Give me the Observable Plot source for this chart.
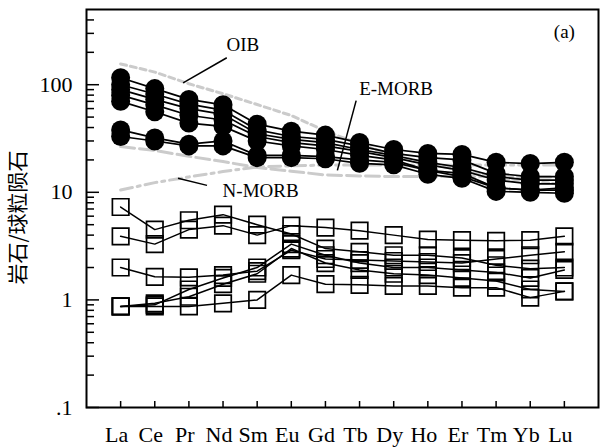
<!DOCTYPE html>
<html><head><meta charset="utf-8">
<script src="https://cdn.jsdelivr.net/npm/d3@7"></script>
<script src="https://cdn.jsdelivr.net/npm/@observablehq/plot@0.6"></script>
<style>
body{margin:0;background:#fff}
svg text{font-family:"Liberation Serif","DejaVu Serif",serif !important;}
svg text.cjk, svg .cjk text{font-family:"Noto Sans CJK SC",sans-serif !important;}
</style>
</head><body><div id="chart"></div>
<script>
const elements = ["La","Ce","Pr","Nd","Sm","Eu","Gd","Tb","Dy","Ho","Er","Tm","Yb","Lu"];

// filled-circle samples (chondrite normalised)
const circleS1 = [116, 92, 73, 65, 43, 37, 34, 29, 25, 23, 22.5, 19, 18.5, 19];
const circleS2 = [100, 82, 66, 58, 38, 33, 31, 27, 23, 21, 20, 15, 14, 14];
const circleS3 = [90, 73, 60, 53, 35, 31, 29, 25, 22, 19, 17, 14, 13, 13];
const circleS4 = [80, 65, 52, 47, 33, 29, 27, 24, 21, 18, 16, 13, 12, 12];
const circleS5 = [70, 56, 44, 41, 30, 27, 25, 22, 20, 16, 15, 11, 10.5, 11];
const circleS6 = [38, 32, 28, 30, 22, 22, 21.5, 20, 19, 16, 14, 11, 10.5, 10.5];
const circleS7 = [33, 30, 27, 27, 21, 21, 20.5, 18.6, 18, 14.7, 13.5, 10.2, 10, 9.8];

// open-square samples
const squareA = [7.3, 4.5, 5.5, 6.2, 5.0, 4.1, 3.0, 2.8, 2.6, 2.6, 2.45, 2.1, 1.95, 2.0];
const squareB = [3.9, 3.3, 4.5, 4.9, 4.0, 4.9, 4.7, 4.4, 4.0, 3.64, 3.59, 3.54, 3.59, 3.9];
const squareC = [2.0, 1.64, 1.62, 1.7, 1.85, 2.9, 2.4, 2.35, 2.3, 2.25, 2.2, 2.4, 2.6, 2.8];
const squareD = [0.87, 0.87, 0.87, 0.93, 1.0, 1.7, 1.4, 1.38, 1.35, 1.35, 1.3, 1.3, 1.05, 1.2];
const squareE = [0.87, 0.93, 1.07, 1.4, 1.75, 3.0, 2.2, 1.9, 1.75, 1.7, 1.6, 1.5, 1.25, 1.2];
const squareF = [0.87, 0.90, 1.25, 1.6, 2.0, 3.3, 2.6, 2.2, 2.0, 2.0, 1.9, 1.8, 1.6, 1.9];

// reference curves
const oib   = [156, 131, 102, 82.4, 65.4, 51.7, 37.1, 28.1, 22.0, 18.7, 15.8, 13.7, 12.7, 11.8];
const emorb = [26.6, 24.5, 21.6, 19.3, 17.0, 15.7, 14.5, 14.2, 14.0, 14.0, 14.0, 14.0, 13.9, 13.9];
const nmorb = [10.5, 12.3, 13.9, 15.6, 17.2, 17.6, 17.9, 17.9, 17.9, 17.8, 17.9, 17.9, 17.9, 17.9];

const yMajor = [0.1, 1, 10, 100];
const yLabelValues = [0.1, 1, 10, 100, 500];
const yLabelTexts = [".1", "1", "10", "100", "500"];
const yMinor = [0.2,0.3,0.4,0.5,0.6,0.7,0.8,0.9,2,3,4,5,6,7,8,9,20,30,40,50,60,70,80,90,200,300,400];

// annotations: [label, x-position (element index), value]
const annLabels = ["OIB", "E-MORB", "N-MORB", "(a)"];
const annX = [3.58, 8.07, 4.10, 13.0];
const annY = [234, 91.8, 10.4, 310];
// leader lines: from (x1,y1) to (x2,y2)
const leadX1 = [3.11, 6.90, 1.68];
const leadY1 = [178, 71.1, 13.5];
const leadX2 = [1.83, 6.35, 2.53];
const leadY2 = [104, 16.0, 11.6];

const toRows = (arr, s) => arr.map((v, i) => ({i, v, s}));
const circles = [circleS1, circleS2, circleS3, circleS4, circleS5, circleS6, circleS7].flatMap((a, k) => toRows(a, "c" + k));
const squares = [squareA, squareB, squareC, squareD, squareE, squareF].flatMap((a, k) => toRows(a, "s" + k));
const ann = annLabels.map((t, k) => ({t, x: annX[k], y: annY[k]}));
const leads = leadX1.map((x1, k) => ({x1, y1: leadY1[k], x2: leadX2[k], y2: leadY2[k]}));
const idx = elements.map((e, i) => i);

const serif = '"Liberation Serif", "DejaVu Serif", serif';

const chart = Plot.plot({
  width: 600,
  height: 448,
  marginLeft: 86,
  marginRight: 2,
  marginTop: 9,
  marginBottom: 41,
  style: {fontFamily: serif, fontSize: "22px", background: "#fff"},
  x: {type: "linear", domain: [-1, 14]},
  y: {type: "log", domain: [0.1, 500]},
  marks: [
    Plot.line(toRows(nmorb, "n"), {x: "i", y: "v", stroke: "#cbcbcb", strokeWidth: 3, strokeDasharray: "12,5,3,5"}),
    Plot.line(toRows(emorb, "e"), {x: "i", y: "v", stroke: "#cbcbcb", strokeWidth: 3, strokeDasharray: "14,5"}),
    Plot.line(toRows(oib, "o"), {x: "i", y: "v", stroke: "#cbcbcb", strokeWidth: 3, strokeDasharray: "6,4"}),
    Plot.line(squares, {x: "i", y: "v", z: "s", stroke: "black", strokeWidth: 1.5}),
    Plot.dot(squares, {x: "i", y: "v", symbol: "square", r: 9.3, stroke: "black", strokeWidth: 1.7, fill: "none"}),
    Plot.line(circles, {x: "i", y: "v", z: "s", stroke: "black", strokeWidth: 1.7}),
    Plot.dot(circles, {x: "i", y: "v", r: 9.5, fill: "black", stroke: "none"}),
    Plot.link(leads, {x1: "x1", y1: "y1", x2: "x2", y2: "y2", stroke: "black", strokeWidth: 1.5}),
    Plot.text(ann, {x: "x", y: "y", text: "t", fontSize: 19, fill: "black"}),
    Plot.axisX({ticks: idx, tickSize: -6, tickFormat: () => "", strokeWidth: 1.5}),
    Plot.axisX({ticks: idx, tickSize: 0, tickPadding: 19, dx: -4, tickFormat: i => elements[i], fontSize: 22, label: null}),
    Plot.axisY({ticks: yMajor, tickSize: -13, tickFormat: () => "", strokeWidth: 1.5, label: null}),
    Plot.axisY({ticks: yMinor, tickSize: -8, tickFormat: () => "", strokeWidth: 1.5, label: null}),
    Plot.axisY({ticks: yLabelValues, tickSize: 0, tickPadding: 14, tickFormat: (d) => yLabelTexts[yLabelValues.indexOf(d)], fontSize: 22, label: null}),
    Plot.text(["岩石/球粒陨石"], {frameAnchor: "left", textAnchor: "middle", dx: -68, dy: 9, rotate: -90, className: "cjk", fontSize: 21, fill: "#000", letterSpacing: 7}),
    Plot.frame({stroke: "black", strokeWidth: 2})
  ]
});
document.getElementById("chart").appendChild(chart);
</script>
</body></html>
